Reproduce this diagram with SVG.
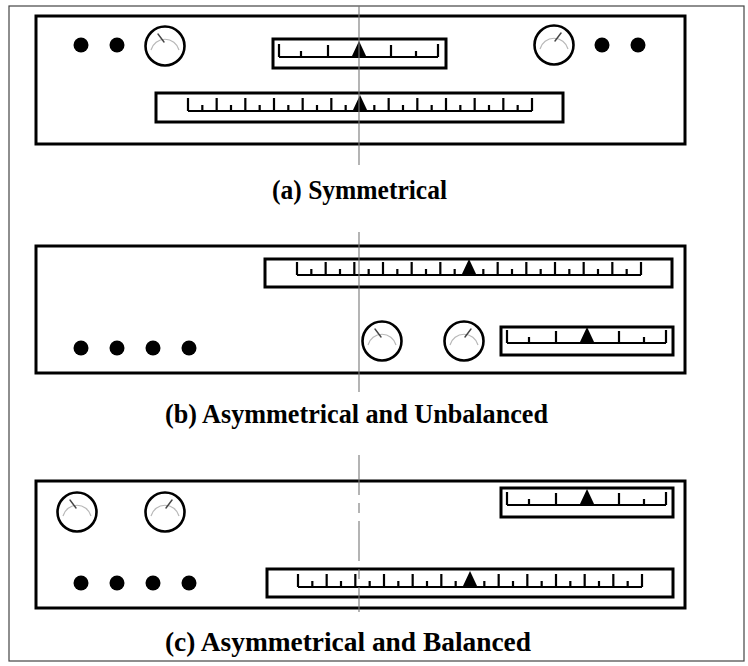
<svg xmlns="http://www.w3.org/2000/svg" xmlns:xlink="http://www.w3.org/1999/xlink" width="748" height="666" viewBox="0 0 748 666">
<style>
.panel{fill:#fff;stroke:#000;stroke-width:3}
.box{fill:#fff;stroke:#000;stroke-width:3}
.tick{fill:none;stroke:#000;stroke-width:2.2}
.ptr{fill:#000}
.dot{fill:#000}
.knob{fill:#fff;stroke:#000;stroke-width:2.6}
.arc{fill:none;stroke:#b8b8b8;stroke-width:1.2}
.needle{stroke:#444;stroke-width:1.4;stroke-linecap:round}
.axis{stroke:#777;stroke-width:1.1;fill:none}
.axisdash{stroke:#777;stroke-width:1.1;fill:none;stroke-dasharray:40 8 10 8}
.label{font-family:"Liberation Serif","Times New Roman",serif;font-weight:bold;font-size:27px;fill:#000;text-anchor:middle}
</style>
<defs>
<g id="longScale">
<path class="tick" d="M0,0 H344 M0,0 V-13 M28.67,0 V-13 M57.33,0 V-13 M86,0 V-13 M114.67,0 V-13 M143.33,0 V-13 M200.67,0 V-13 M229.33,0 V-13 M258,0 V-13 M286.67,0 V-13 M315.33,0 V-13 M344,0 V-13 M14.33,0 V-6 M43,0 V-6 M71.67,0 V-6 M100.33,0 V-6 M129,0 V-6 M157.67,0 V-6 M186.33,0 V-6 M215,0 V-6 M243.67,0 V-6 M272.33,0 V-6 M301,0 V-6 M329.67,0 V-6"/>
<path class="ptr" d="M172,-16 L179.5,0 L164.5,0 Z"/>
</g>
<g id="shortScale">
<path class="tick" d="M0,0 H159 M0,0 V-13 M159,0 V-13 M49,0 V-12 M112,0 V-12 M22,0 V-6 M137,0 V-6"/>
<path class="ptr" d="M80,-16 L87.5,0 L72.5,0 Z"/>
</g>
<g id="knobL">
<circle class="knob" r="19.5"/>
<path class="arc" d="M-14,4 A14.5,14.5 0 0 1 14,4"/>
<line class="needle" x1="-7" y1="-12" x2="-1" y2="-4"/>
</g>
<g id="knobR">
<circle class="knob" r="19.5"/>
<path class="arc" d="M-14,4 A14.5,14.5 0 0 1 14,4"/>
<line class="needle" x1="7" y1="-12" x2="1" y2="-4"/>
</g>
</defs>
<rect x="9" y="6" width="735" height="655" fill="#fff" stroke="#444" stroke-width="1.2"/>

<g id="panelA">
<rect class="panel" x="36" y="16" width="649" height="128"/>
<circle class="dot" cx="81" cy="45" r="7.5"/>
<circle class="dot" cx="117" cy="45" r="7.5"/>
<use xlink:href="#knobL" x="165" y="46"/>
<use xlink:href="#knobR" x="554" y="45"/>
<circle class="dot" cx="602" cy="45" r="7.5"/>
<circle class="dot" cx="638" cy="45" r="7.5"/>
<rect class="box" x="273" y="39" width="173" height="29"/>
<use xlink:href="#shortScale" x="279" y="57"/>
<rect class="box" x="156" y="93" width="407" height="29"/>
<use xlink:href="#longScale" x="188" y="111"/>
</g>

<g id="panelB">
<rect class="panel" x="36" y="246" width="649" height="127"/>
<rect class="box" x="265" y="259" width="407" height="28"/>
<use xlink:href="#longScale" x="297" y="275"/>
<circle class="dot" cx="81" cy="348" r="7.5"/>
<circle class="dot" cx="117" cy="348" r="7.5"/>
<circle class="dot" cx="153" cy="348" r="7.5"/>
<circle class="dot" cx="189" cy="348" r="7.5"/>
<use xlink:href="#knobL" x="382" y="341"/>
<use xlink:href="#knobR" x="464" y="341"/>
<rect class="box" x="501" y="327" width="172" height="28"/>
<use xlink:href="#shortScale" x="507" y="343"/>
</g>

<g id="panelC">
<rect class="panel" x="36" y="481" width="649" height="127"/>
<use xlink:href="#knobL" x="77" y="512"/>
<use xlink:href="#knobR" x="165" y="512"/>
<rect class="box" x="501" y="488" width="172" height="29"/>
<use xlink:href="#shortScale" x="507" y="505"/>
<circle class="dot" cx="81" cy="583" r="7.5"/>
<circle class="dot" cx="117" cy="583" r="7.5"/>
<circle class="dot" cx="153" cy="583" r="7.5"/>
<circle class="dot" cx="189" cy="583" r="7.5"/>
<rect class="box" x="267" y="569" width="406" height="28"/>
<use xlink:href="#longScale" x="298" y="587"/>
</g>

<g id="connectors">
<line class="axis" x1="359" y1="6" x2="359" y2="165"/>
<line class="axis" x1="359" y1="232" x2="359" y2="392"/>
<line class="axisdash" x1="359" y1="455" x2="359" y2="612"/>
</g>

<g id="labels">
<text class="label" x="359.5" y="199" textLength="175" lengthAdjust="spacingAndGlyphs">(a) Symmetrical</text>
<text class="label" x="356.5" y="423" textLength="383" lengthAdjust="spacingAndGlyphs">(b) Asymmetrical and Unbalanced</text>
<text class="label" x="348" y="651" textLength="366" lengthAdjust="spacingAndGlyphs">(c) Asymmetrical and Balanced</text>
</g>
</svg>
